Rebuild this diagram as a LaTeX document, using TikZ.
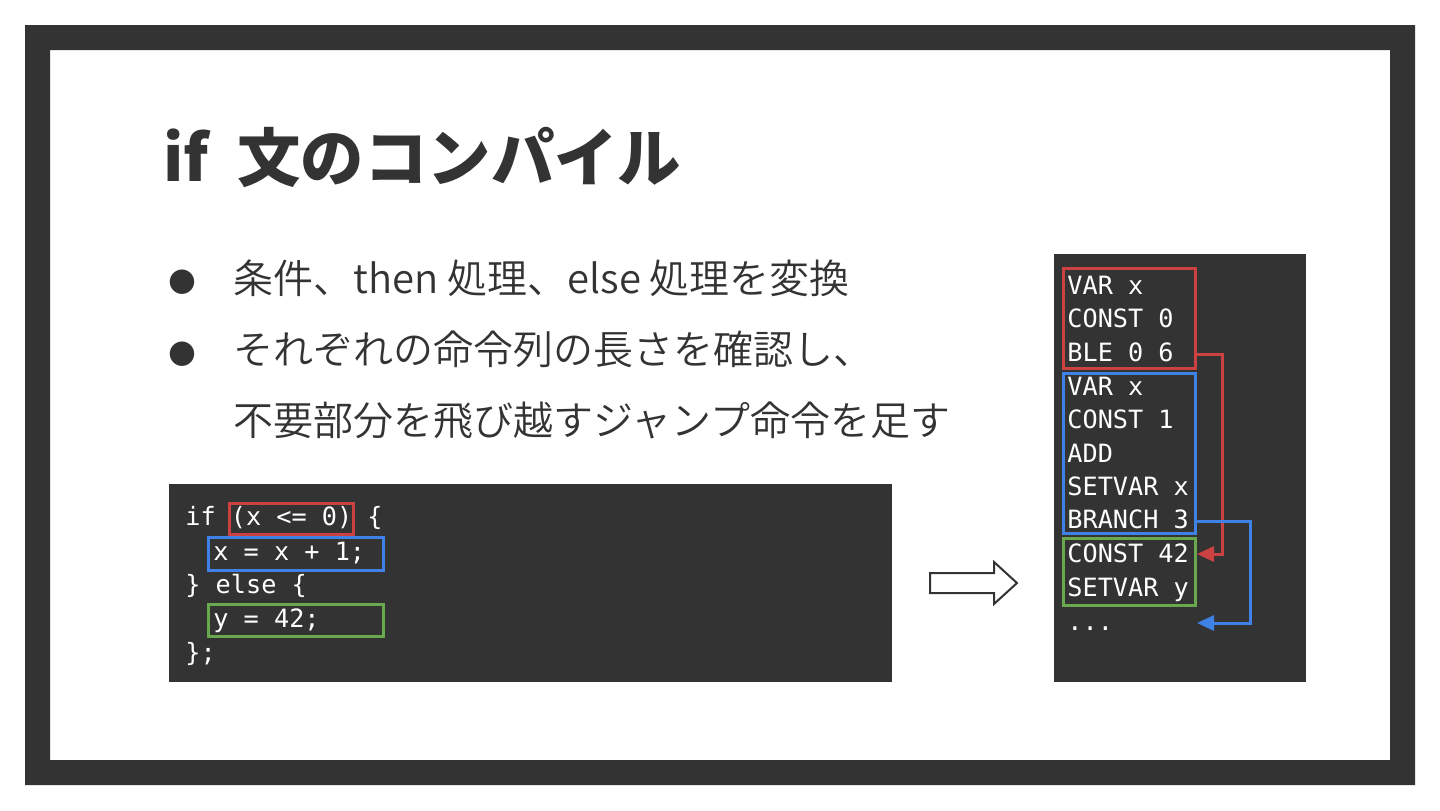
\documentclass[tikz,border=0pt]{standalone}
\usepackage{fontspec}
\setmainfont{Noto Sans CJK JP}
\newfontfamily\lightfont{Noto Sans CJK JP DemiLight}
\newfontfamily\codefont{DejaVu Sans Mono}
\newfontfamily\symfont{DejaVu Sans}
\usetikzlibrary{arrows.meta}
\definecolor{dk}{HTML}{333333}
\definecolor{rd}{HTML}{CC4141}
\definecolor{bl}{HTML}{3F82E6}
\definecolor{gr}{HTML}{6AA84F}
\tikzset{
  codeline/.style={anchor=base west, inner sep=0pt, text=white,
    font=\codefont\fontsize{12.6pt}{15pt}\selectfont},
  bullettext/.style={anchor=base west, inner sep=0pt, text=dk,
    font=\lightfont\fontsize{20pt}{24pt}\selectfont},
  bulletdot/.style={inner sep=0pt, text=dk, font=\symfont\fontsize{16pt}{18pt}\selectfont},
  hlbox/.style={draw=#1, line width=1.5pt},
  jump/.style={draw=#1, line width=1.5pt, -{Triangle[length=8.5pt,width=7.5pt]}},
}
\begin{document}
\begin{tikzpicture}[x=0.5pt,y=-0.5pt]
\useasboundingbox (0,0) rectangle (1440,810);
\fill[white] (0,0) rectangle (1440,810);
\fill[dk, even odd rule] (25,25) rectangle (1415,785) (50,50) rectangle (1390,760);

% title
\node[anchor=base west, inner sep=0pt, text=dk,
  font=\fontsize{31.7pt}{38pt}\selectfont\bfseries] (title) at (163,181) {if \hspace{7pt}文のコンパイル};

% bullets
\node[bulletdot] (d1) at (182,282) {●};
\node[bullettext] (b1) at (233,293) {条件、then 処理、else 処理を変換};
\node[bulletdot] (d2) at (182,354) {●};
\node[bullettext] (b2) at (233,364) {それぞれの命令列の長さを確認し、};
\node[bullettext] (b3) at (233,435) {不要部分を飛び越すジャンプ命令を足す};

% source code box
\fill[dk] (169,484) rectangle (892,682);
\node[codeline] (c1) at (185,525) {if (x <= 0) \{};
\node[codeline] (c2) at (213,560) {x = x + 1;};
\node[codeline] (c3) at (185,593) {\} else \{};
\node[codeline] (c4) at (213,627) {y = 42;};
\node[codeline] (c5) at (185,661) {\};};
\coordinate (sra) at (229,503); \coordinate (srb) at (353,534);
\coordinate (sba) at (208,537); \coordinate (sbb) at (383,570);
\coordinate (sga) at (208,604); \coordinate (sgb) at (383,636);
\draw[hlbox=rd] (sra) rectangle (srb);
\draw[hlbox=bl] (sba) rectangle (sbb);
\draw[hlbox=gr] (sga) rectangle (sgb);

% hollow arrow
\draw[dk, line width=1pt, fill=white, line join=miter]
  (930,573) -- (994,573) -- (994,562) -- (1017,583) -- (994,604) -- (994,593) -- (930,593) -- cycle;

% compiled code box
\fill[dk] (1054,254) rectangle (1306,682);
\node[codeline] (i1) at (1067,294) {VAR x};
\node[codeline] (i2) at (1067,327) {CONST 0};
\node[codeline] (i3) at (1067,361) {BLE 0 6};
\node[codeline] (i4) at (1067,395) {VAR x};
\node[codeline] (i5) at (1067,428) {CONST 1};
\node[codeline] (i6) at (1067,462) {ADD};
\node[codeline] (i7) at (1067,495) {SETVAR x};
\node[codeline] (i8) at (1067,528) {BRANCH 3};
\node[codeline] (i9) at (1067,562) {CONST 42};
\node[codeline] (i10) at (1067,596) {SETVAR y};
\node[codeline] (i11) at (1067,630) {...};
\coordinate (ra) at (1063,268); \coordinate (rb) at (1195,368);
\coordinate (ba) at (1063,373); \coordinate (bb) at (1195,533);
\coordinate (ga) at (1063,538); \coordinate (gb) at (1195,605);
\draw[hlbox=rd] (ra) rectangle (rb);
\draw[hlbox=bl] (ba) rectangle (bb);
\draw[hlbox=gr] (ga) rectangle (gb);

% jumps
\coordinate (rs) at (1195,354); \coordinate (re) at (1197,554);
\coordinate (bs) at (1195,521); \coordinate (be) at (1197,623);
\draw[jump=rd] (rs) -- (1222,354) -- (1222,554) -- (re);
\draw[jump=bl] (bs) -- (1250,521) -- (1250,623) -- (be);
\end{tikzpicture}
\end{document}
